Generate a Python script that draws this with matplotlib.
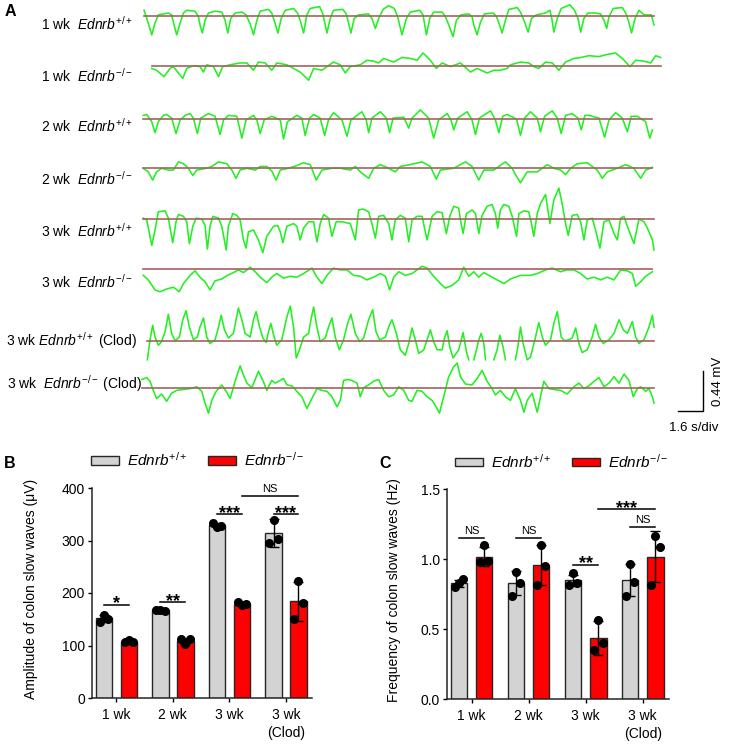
import numpy as np
import matplotlib
matplotlib.use('Agg')
import matplotlib.pyplot as plt
from matplotlib.patches import Patch

plt.rcParams['font.family'] = ['Liberation Sans', 'DejaVu Sans']
plt.rcParams['mathtext.fontset'] = 'custom'
plt.rcParams['mathtext.rm'] = 'Liberation Sans'
plt.rcParams['mathtext.it'] = 'Liberation Sans:italic'
plt.rcParams['mathtext.bf'] = 'Liberation Sans:bold'

nan = np.nan

trace_1wk_wt = [(0.26, 0.06), (0.47, -0.05), (0.75, -0.21), (0.96, -0.08), (1.17, 0.01), (1.81, 0.03), (2.02, 0.01),
                (2.13, -0.07), (2.34, -0.21), (2.56, -0.08), (2.77, 0.03), (2.98, 0.06), (3.51, 0.05), (3.73, -0.01),
                (3.83, -0.10), (3.98, -0.19), (4.15, -0.05), (4.37, 0.03), (4.79, 0.05), (5.22, 0.04), (5.43, -0.05),
                (5.60, -0.19), (5.79, -0.03), (6.07, 0.03), (6.50, 0.04), (6.77, 0.01), (7.03, -0.09), (7.24, -0.21),
                (7.46, -0.05), (7.67, 0.05), (8.20, 0.07), (8.41, 0.03), (8.56, -0.05), (8.80, -0.19), (9.01, -0.03),
                (9.27, 0.06), (9.80, 0.08), (10.05, 0.03), (10.22, -0.05), (10.44, -0.19), (10.65, 0.01), (10.86, 0.08),
                (11.46, 0.10), (11.65, 0.03), (11.78, -0.07), (11.93, -0.19), (12.14, -0.03), (12.35, 0.06),
                (12.95, 0.07), (13.16, 0.02), (13.31, -0.08), (13.46, -0.19), (13.67, -0.03), (13.95, 0.01),
                (14.59, 0.02), (14.80, -0.03), (15.02, -0.14), (15.23, -0.03), (15.51, 0.07), (15.87, 0.11),
                (16.23, 0.08), (16.44, -0.01), (16.72, -0.21), (17.00, -0.03), (17.25, 0.04), (17.85, 0.06),
                (18.06, 0.01), (18.28, -0.21), (18.49, -0.03), (18.74, 0.04), (19.28, 0.04), (19.49, -0.01),
                (19.70, -0.10), (19.98, -0.23), (20.19, -0.05), (20.49, 0.01), (20.98, 0.02), (21.19, -0.01),
                (21.30, -0.10), (21.51, -0.21), (21.73, -0.07), (21.98, 0.02), (22.54, 0.03), (22.75, -0.01),
                (22.94, -0.10), (23.11, -0.19), (23.32, -0.05), (23.54, 0.07), (24.07, 0.09), (24.28, 0.04),
                (24.50, -0.05), (24.77, -0.18), (24.98, -0.03), (25.30, 0.01), (25.88, 0.03), (26.16, 0.06),
                (26.28, -0.03), (26.41, -0.18), (26.63, -0.03), (26.88, 0.08), (27.43, 0.12), (27.73, 0.06),
                (27.95, -0.03), (28.12, -0.18), (28.33, -0.03), (28.58, 0.03), (29.07, 0.03), (29.39, 0.02),
                (29.61, -0.05), (29.78, -0.14), (29.93, -0.01), (30.20, 0.08), (30.78, 0.09), (30.99, 0.03),
                (31.16, -0.05), (31.37, -0.19), (31.59, -0.03), (31.84, 0.06), (32.16, 0.01), (32.63, 0.01),
                (32.80, -0.10)]

trace_1wk_ko = [(0.75, -0.03), (1.06, -0.05), (1.53, -0.12), (1.92, -0.03), (2.13, -0.01), (2.73, -0.14), (2.98, -0.03),
                (3.41, 0.00), (3.83, -0.01), (4.05, -0.07), (4.26, 0.01), (4.69, -0.01), (5.01, -0.12), (5.28, -0.01),
                (5.75, 0.01), (6.39, 0.03), (6.82, 0.03), (7.24, -0.05), (7.56, 0.04), (7.99, 0.03), (8.41, -0.05),
                (8.73, 0.03), (9.37, 0.01), (9.80, -0.03), (10.22, -0.07), (10.76, -0.16), (11.08, -0.03),
                (11.61, -0.05), (11.93, -0.01), (12.35, 0.04), (12.78, 0.01), (13.10, -0.08), (13.42, -0.01),
                (14.06, 0.01), (14.48, 0.06), (14.91, 0.05), (15.23, 0.03), (15.55, 0.08), (16.19, 0.04),
                (16.72, 0.09), (17.25, 0.08), (17.68, 0.06), (18.06, 0.14), (18.53, 0.06), (18.91, -0.03),
                (19.28, 0.03), (19.81, -0.01), (20.45, 0.03), (21.09, -0.07), (21.51, -0.03), (22.15, -0.08),
                (22.58, -0.05), (23.00, -0.05), (23.43, -0.03), (23.64, 0.01), (24.28, 0.04), (24.81, 0.03),
                (25.13, -0.01), (25.45, -0.03), (25.88, 0.04), (26.31, 0.03), (26.73, -0.05), (27.16, 0.04),
                (27.69, 0.08), (28.12, 0.09), (28.65, 0.11), (29.29, 0.10), (29.71, 0.12), (30.35, 0.14),
                (30.78, 0.08), (31.27, -0.01), (31.63, 0.06), (32.16, 0.05), (32.59, 0.03), (32.91, 0.11),
                (33.23, 0.09)]

trace_2wk_wt = [(0.21, 0.04), (0.43, 0.05), (0.75, -0.03), (0.96, -0.15), (1.17, -0.03), (1.49, 0.04), (1.70, 0.05),
                (2.02, 0.01), (2.30, -0.16), (2.56, -0.01), (2.88, 0.04), (3.20, 0.06), (3.41, 0.01), (3.66, -0.16),
                (3.88, 0.01), (4.37, 0.06), (4.79, 0.03), (5.11, -0.17), (5.33, -0.01), (5.64, 0.04), (6.18, 0.03),
                (6.50, -0.21), (6.77, -0.01), (7.24, 0.04), (7.46, -0.01), (7.67, -0.16), (7.92, -0.01), (8.41, 0.03),
                (8.95, -0.01), (9.16, -0.22), (9.41, -0.03), (10.01, 0.04), (10.33, 0.01), (10.54, -0.18),
                (10.82, 0.01), (11.08, 0.05), (11.50, 0.01), (11.78, -0.18), (12.03, -0.01), (12.35, 0.07),
                (12.89, -0.01), (13.21, -0.19), (13.46, -0.01), (14.16, 0.08), (14.44, -0.01), (14.59, -0.15),
                (14.80, 0.01), (15.34, 0.08), (15.72, 0.01), (15.93, -0.15), (16.15, 0.01), (16.83, 0.02),
                (17.15, -0.10), (17.36, 0.01), (17.89, 0.10), (18.42, 0.01), (18.74, -0.21), (19.06, -0.01),
                (19.60, 0.06), (19.85, -0.01), (20.02, -0.12), (20.28, 0.01), (20.87, 0.08), (21.19, -0.01),
                (21.41, -0.17), (21.66, 0.01), (22.37, 0.09), (22.68, -0.01), (22.90, -0.15), (23.15, 0.03),
                (23.43, 0.05), (24.03, 0.00), (24.28, -0.18), (24.54, 0.01), (24.92, 0.08), (25.35, 0.01),
                (25.56, -0.14), (25.82, 0.03), (26.31, 0.09), (26.63, 0.01), (26.88, -0.16), (27.16, 0.04),
                (27.58, 0.06), (27.95, 0.01), (28.16, -0.12), (28.39, 0.04), (28.65, 0.04), (29.29, 0.01),
                (29.65, -0.20), (29.93, -0.01), (30.35, 0.07), (30.78, 0.01), (31.10, -0.14), (31.35, 0.03),
                (31.74, 0.03), (32.27, -0.03), (32.53, -0.21), (32.70, -0.12)]

trace_2wk_ko = [(0.21, 0.00), (0.53, -0.04), (0.81, -0.13), (1.06, -0.04), (1.38, 0.00), (1.81, -0.02), (2.13, -0.02),
                (2.45, 0.07), (2.77, 0.05), (3.09, 0.00), (3.37, -0.08), (3.62, -0.02), (4.26, 0.00), (4.58, 0.02),
                (5.01, 0.07), (5.54, 0.05), (5.86, -0.02), (6.13, -0.11), (6.39, -0.02), (6.82, 0.00), (7.35, -0.02),
                (7.67, 0.02), (8.09, 0.02), (8.41, -0.03), (8.69, -0.13), (8.95, -0.02), (9.48, 0.00), (10.01, 0.03),
                (10.44, 0.06), (10.86, 0.04), (11.25, -0.13), (11.61, -0.02), (12.25, 0.00), (12.78, 0.00),
                (13.42, -0.02), (13.74, 0.02), (14.06, -0.04), (14.59, -0.11), (14.91, 0.00), (15.34, 0.04),
                (15.87, 0.00), (16.29, -0.04), (16.61, 0.02), (17.25, 0.04), (18.00, 0.07), (18.53, 0.02),
                (18.91, -0.12), (19.17, -0.02), (20.02, 0.00), (20.77, 0.07), (21.19, 0.02), (21.62, -0.13),
                (21.94, -0.02), (22.58, -0.02), (23.32, 0.07), (23.75, 0.00), (23.96, -0.07), (24.28, -0.16),
                (24.71, -0.04), (25.35, -0.04), (25.99, 0.04), (26.41, 0.00), (26.84, -0.02), (27.16, -0.07),
                (27.48, 0.00), (27.90, 0.05), (28.54, 0.06), (28.86, 0.02), (29.18, -0.02), (29.50, -0.11),
                (29.82, -0.04), (30.46, 0.00), (30.99, 0.04), (31.52, 0.00), (31.95, -0.11), (32.27, -0.02),
                (32.70, 0.01)]

trace_3wk_wt = [(0.21, 0.01), (0.43, -0.01), (0.75, -0.29), (0.96, -0.12), (1.17, 0.08), (1.60, 0.09), (1.81, 0.01),
                (2.09, -0.26), (2.30, -0.03), (2.45, 0.05), (2.77, 0.03), (2.98, -0.03), (3.15, -0.27), (3.37, -0.08),
                (3.58, 0.01), (3.94, 0.00), (4.15, -0.07), (4.30, -0.33), (4.47, -0.08), (4.64, 0.03), (5.01, 0.01),
                (5.22, -0.08), (5.50, -0.34), (5.64, -0.08), (5.92, 0.06), (6.18, 0.04), (6.39, -0.01), (6.60, -0.23),
                (6.77, -0.32), (6.92, -0.14), (7.24, -0.12), (7.56, -0.23), (7.84, -0.37), (8.09, -0.19),
                (8.52, -0.08), (8.78, -0.07), (8.95, -0.14), (9.12, -0.26), (9.37, -0.08), (9.80, -0.05),
                (10.01, -0.08), (10.22, -0.23), (10.44, -0.10), (10.76, -0.03), (11.08, -0.03), (11.29, -0.25),
                (11.50, -0.05), (11.72, 0.05), (12.03, 0.01), (12.25, -0.19), (12.52, -0.03), (12.89, -0.03),
                (13.42, -0.05), (13.74, -0.23), (13.95, 0.10), (14.23, 0.11), (14.59, 0.08), (14.80, -0.05),
                (15.02, -0.21), (15.23, 0.03), (15.55, 0.04), (15.87, -0.05), (16.08, -0.23), (16.29, -0.01),
                (16.61, 0.04), (16.93, 0.01), (17.15, -0.25), (17.36, -0.01), (17.68, 0.03), (18.00, 0.03),
                (18.32, -0.23), (18.64, 0.03), (18.96, 0.08), (19.28, 0.07), (19.55, -0.16), (19.77, 0.03),
                (20.02, 0.14), (20.34, 0.12), (20.45, -0.01), (20.62, -0.16), (20.83, 0.06), (21.19, 0.10),
                (21.41, 0.06), (21.62, -0.16), (21.83, 0.04), (22.15, 0.14), (22.47, 0.16), (22.68, 0.06),
                (22.83, -0.10), (23.00, 0.10), (23.22, 0.16), (23.54, 0.14), (23.75, 0.03), (24.03, -0.19),
                (24.18, 0.06), (24.50, 0.09), (24.81, 0.08), (24.96, -0.03), (25.13, -0.19), (25.35, 0.06),
                (25.56, 0.17), (25.88, 0.27), (26.16, -0.05), (26.41, 0.21), (26.73, 0.34), (26.94, 0.17),
                (27.16, -0.05), (27.33, -0.18), (27.58, 0.04), (27.90, 0.05), (28.12, -0.03), (28.33, -0.23),
                (28.54, -0.01), (28.86, 0.01), (29.07, -0.12), (29.35, -0.32), (29.61, -0.03), (29.93, -0.01),
                (30.25, -0.16), (30.46, -0.23), (30.67, 0.01), (30.89, 0.03), (31.10, -0.08), (31.52, -0.27),
                (31.84, 0.00), (32.16, -0.03), (32.38, -0.10), (32.70, -0.23), (32.80, -0.34)]

trace_3wk_ko = [(0.21, -0.07), (0.53, -0.12), (0.96, -0.23), (1.28, -0.25), (1.70, -0.22), (2.13, -0.20), (2.51, -0.25),
                (2.77, -0.16), (3.20, -0.07), (3.51, -0.02), (3.83, -0.09), (4.15, -0.14), (4.47, -0.23),
                (4.79, -0.13), (5.22, -0.11), (5.58, -0.07), (5.96, -0.04), (6.28, -0.01), (6.60, -0.04), (7.03, 0.02),
                (7.35, -0.03), (7.67, -0.09), (8.09, -0.15), (8.41, -0.09), (8.73, -0.05), (9.16, -0.10),
                (9.59, -0.08), (10.01, -0.09), (10.44, -0.05), (10.97, 0.01), (11.29, -0.09), (11.61, -0.16),
                (11.93, -0.07), (12.35, 0.01), (12.78, -0.01), (13.21, -0.01), (13.63, -0.07), (14.06, -0.08),
                (14.48, -0.12), (14.91, -0.09), (15.34, -0.05), (15.66, -0.08), (15.93, -0.23), (16.19, -0.09),
                (16.51, -0.03), (16.93, -0.07), (17.36, -0.05), (17.68, -0.01), (18.00, 0.03), (18.32, 0.01),
                (18.74, -0.08), (19.17, -0.16), (19.49, -0.21), (19.92, -0.18), (20.34, -0.12), (20.66, 0.02),
                (20.98, -0.08), (21.30, -0.03), (21.62, -0.09), (21.94, -0.04), (22.37, -0.08), (22.79, -0.12),
                (23.22, -0.16), (23.64, -0.11), (24.28, -0.07), (24.92, -0.07), (25.35, -0.05), (25.88, -0.01),
                (26.31, 0.01), (26.84, -0.03), (27.26, -0.01), (27.69, -0.01), (28.12, -0.05), (28.54, -0.11),
                (28.97, -0.09), (29.39, -0.12), (29.82, -0.09), (30.25, -0.12), (30.67, -0.01), (31.10, -0.02),
                (31.42, -0.05), (31.63, -0.19), (31.95, -0.14), (32.27, -0.08), (32.70, -0.03)]

# clodronate traces; nan marks where the recording left the display window
trace_clod_wt = [(0.47, -0.21), (0.64, 0.01), (0.81, 0.17), (0.96, 0.04), (1.17, -0.05), (1.38, -0.01), (1.60, 0.10),
                 (1.81, 0.29), (2.02, 0.08), (2.24, 0.00), (2.51, 0.04), (2.73, 0.23), (2.94, 0.33), (3.15, 0.15),
                 (3.41, 0.01), (3.66, 0.04), (3.83, 0.15), (4.05, 0.25), (4.26, 0.04), (4.47, -0.03), (4.79, 0.01),
                 (5.01, 0.15), (5.18, 0.28), (5.39, 0.12), (5.64, 0.03), (5.96, 0.08), (6.28, 0.36), (6.50, 0.23),
                 (6.71, 0.08), (7.03, 0.04), (7.24, 0.23), (7.41, 0.32), (7.63, 0.15), (7.84, 0.03), (8.05, -0.02),
                 (8.20, 0.10), (8.35, 0.19), (8.56, 0.04), (8.73, -0.05), (9.05, 0.01), (9.37, 0.26), (9.59, 0.38),
                 (9.80, 0.15), (9.97, -0.19), (10.18, -0.10), (10.44, 0.04), (10.76, 0.08), (10.91, 0.23),
                 (11.08, 0.37), (11.29, 0.15), (11.50, -0.01), (11.82, 0.03), (12.03, 0.15), (12.25, 0.25),
                 (12.46, 0.04), (12.72, -0.10), (12.99, 0.01), (13.25, 0.19), (13.46, 0.29), (13.74, 0.08),
                 (14.02, -0.01), (14.27, 0.03), (14.59, 0.23), (14.85, 0.34), (15.06, 0.10), (15.29, 0.01),
                 (15.66, 0.04), (15.87, 0.15), (16.08, 0.23), (16.36, 0.08), (16.61, -0.10), (16.93, -0.16),
                 (17.15, -0.03), (17.36, 0.14), (17.57, 0.01), (17.79, -0.14), (18.11, -0.10), (18.36, 0.03),
                 (18.53, 0.12), (18.74, -0.01), (18.96, -0.10), (19.28, -0.10), (19.43, 0.03), (19.60, 0.11),
                 (19.77, -0.07), (19.98, -0.19), (20.34, -0.10), (20.62, 0.09), (20.83, -0.12), (20.98, -0.21),
                 (21.14, nan), (21.30, -0.21), (21.47, -0.10), (21.62, 0.01), (21.77, 0.08), (21.94, -0.03),
                 (22.05, -0.21), (22.30, nan), (22.58, -0.21), (22.79, -0.10), (22.96, 0.06), (23.17, -0.07),
                 (23.32, -0.21), (23.64, nan), (23.96, -0.21), (24.11, -0.07), (24.28, 0.15), (24.45, -0.03),
                 (24.71, -0.21), (24.92, -0.18), (25.24, 0.04), (25.45, 0.20), (25.67, 0.04), (25.88, -0.05),
                 (26.20, 0.01), (26.41, 0.19), (26.63, 0.32), (26.88, 0.04), (27.09, 0.00), (27.37, 0.01),
                 (27.58, 0.03), (27.80, 0.14), (28.01, -0.03), (28.22, -0.13), (28.54, -0.10), (28.86, 0.04),
                 (29.07, 0.18), (29.29, 0.04), (29.56, -0.03), (29.93, 0.01), (30.25, 0.08), (30.57, 0.23),
                 (30.84, 0.12), (31.10, 0.08), (31.42, 0.21), (31.63, 0.04), (31.84, -0.03), (32.16, 0.01),
                 (32.48, 0.15), (32.70, 0.28), (32.80, 0.15)]

trace_clod_ko = [(0.11, 0.09), (0.43, 0.11), (0.64, 0.07), (0.85, -0.03), (1.06, -0.12), (1.38, -0.07), (1.70, -0.15),
                 (2.02, -0.06), (2.34, -0.03), (2.77, -0.02), (3.20, -0.01), (3.62, 0.01), (3.94, -0.04),
                 (4.15, -0.17), (4.37, -0.28), (4.58, -0.14), (4.86, -0.04), (5.22, 0.03), (5.50, -0.04),
                 (5.75, -0.12), (6.07, 0.07), (6.39, 0.24), (6.60, 0.14), (6.82, 0.05), (7.14, 0.00), (7.56, 0.18),
                 (7.84, 0.08), (8.09, -0.03), (8.41, 0.08), (8.63, 0.05), (8.84, 0.07), (9.16, 0.10), (9.37, 0.03),
                 (9.69, 0.02), (10.01, -0.04), (10.33, -0.10), (10.65, -0.23), (10.97, -0.12), (11.29, -0.01),
                 (11.61, -0.03), (11.93, -0.04), (12.25, -0.10), (12.57, -0.21), (12.78, -0.14), (12.99, 0.08),
                 (13.21, 0.09), (13.53, 0.08), (13.85, 0.05), (14.06, -0.10), (14.27, 0.00), (14.59, 0.03),
                 (14.91, 0.07), (15.23, 0.09), (15.55, -0.03), (15.87, -0.10), (16.19, -0.08), (16.51, 0.01),
                 (16.83, -0.03), (17.15, -0.14), (17.36, -0.15), (17.68, -0.03), (18.00, -0.04), (18.32, -0.10),
                 (18.64, -0.14), (18.96, -0.23), (19.11, -0.28), (19.38, -0.10), (19.70, 0.12), (20.02, 0.23),
                 (20.24, 0.27), (20.45, 0.12), (20.77, 0.04), (21.19, 0.03), (21.51, 0.10), (21.83, 0.19),
                 (22.15, 0.07), (22.47, -0.01), (22.68, -0.08), (23.00, -0.03), (23.32, -0.10), (23.64, -0.14),
                 (23.96, -0.01), (24.28, -0.14), (24.50, -0.27), (24.71, -0.14), (25.03, -0.06), (25.24, -0.20),
                 (25.35, -0.27), (25.56, -0.10), (25.77, 0.07), (26.09, -0.01), (26.41, -0.02), (26.84, -0.03),
                 (27.26, -0.07), (27.69, 0.01), (28.01, 0.05), (28.33, -0.01), (28.65, 0.02), (28.97, 0.07),
                 (29.29, 0.11), (29.61, 0.01), (29.93, 0.05), (30.25, 0.12), (30.57, 0.05), (30.89, 0.15),
                 (31.20, 0.08), (31.48, -0.10), (31.74, -0.01), (31.95, 0.01), (32.27, -0.04), (32.48, -0.01),
                 (32.70, -0.10), (32.80, -0.17)]

traces = [trace_1wk_wt, trace_1wk_ko, trace_2wk_wt, trace_2wk_ko,
          trace_3wk_wt, trace_3wk_ko, trace_clod_wt, trace_clod_ko]
trace_labels = [r'1 wk  $\mathit{Ednrb}^{+/+}$', r'1 wk  $\mathit{Ednrb}^{-/-}$',
                r'2 wk  $\mathit{Ednrb}^{+/+}$', r'2 wk  $\mathit{Ednrb}^{-/-}$',
                r'3 wk  $\mathit{Ednrb}^{+/+}$', r'3 wk  $\mathit{Ednrb}^{-/-}$',
                r'3 wk $\mathit{Ednrb}^{+/+}$ (Clod)', r'3 wk  $\mathit{Ednrb}^{-/-}$ (Clod)']

# ---------------- panels B and C
groups = ['1 wk', '2 wk', '3 wk', '3 wk\n(Clod)']

amp_wt_mean = [152, 167, 329, 314]
amp_wt_sd = [7, 2, 4, 27]
amp_wt_pts = [[144, 159, 150], [167, 168, 166], [333, 326, 328], [295, 340, 303]]
amp_ko_mean = [106, 108, 180, 184]
amp_ko_sd = [3, 5, 2, 37]
amp_ko_pts = [[107, 110, 106], [112, 103, 112], [182, 178, 180], [150, 222, 181]]

freq_wt_mean = [0.83, 0.83, 0.85, 0.85]
freq_wt_sd = [0.025, 0.085, 0.04, 0.115]
freq_wt_pts = [[0.80, 0.83, 0.86], [0.74, 0.91, 0.83], [0.82, 0.90, 0.83], [0.74, 0.97, 0.84]]
freq_ko_mean = [1.02, 0.96, 0.44, 1.02]
freq_ko_sd = [0.065, 0.14, 0.12, 0.185]
freq_ko_pts = [[0.98, 1.10, 0.99], [0.82, 1.10, 0.95], [0.35, 0.57, 0.40], [0.82, 1.17, 1.09]]

# (group, side, group, side, y, label); side -1 = +/+, +1 = -/-
amp_sig = [(0, -1, 0, 1, 177, '*'), (1, -1, 1, 1, 182, '**'), (2, -1, 2, 1, 350, '***'),
           (3, -1, 3, 1, 350, '***'), (2, 1, 3, 1, 385, 'NS')]
freq_sig = [(0, -1, 0, 1, 1.155, 'NS'), (1, -1, 1, 1, 1.155, 'NS'), (2, -1, 2, 1, 0.96, '**'),
            (2, 1, 3, 1, 1.357, '***'), (3, -1, 3, 1, 1.23, 'NS')]

GREEN = '#22f022'
BASE = '#a5625f'
GRAY = '#d3d3d3'
RED = '#ff0000'
EDGE = '#262626'
W, H = 729, 747

fig = plt.figure(figsize=(W / 100, H / 100), dpi=100)

# trace area: 15.67 px per s, 91 px per mV
axA = fig.add_axes([140 / W, 1 - 440 / H, 589 / W, 440 / H])
axA.set_xlim(0, 589 / 15.67)
axA.set_ylim(-440 / 91, 0)
axA.axis('off')
row_offset = [-0.173, -0.722, -1.308, -1.849, -2.407, -2.956, -3.744, -4.260]
label_x = [41, 41, 41, 41, 41, 41, 6, 7]
label_base = [30, 82, 132, 185, 237, 288, 346, 389]

for tr, off, lab, lx, ly in zip(traces, row_offset, trace_labels, label_x, label_base):
    t, v = np.array(tr, dtype=float).T
    axA.plot(t, v + off, color=GREEN, lw=1.15, zorder=2, solid_joinstyle='round')
    axA.plot([t[0], t[-1]], [off, off], color=BASE, lw=1.2, zorder=3)
    fig.text(lx / W, 1 - ly / H, lab, fontsize=10, ha='left', va='baseline')

# scale bar
sb_x, sb_y = 35.96, -4.52
axA.plot([sb_x - 1.6, sb_x, sb_x], [sb_y, sb_y, sb_y + 0.44], color='black', lw=1.0, clip_on=False)
axA.text(sb_x + 0.95, sb_y + 0.33, '0.44 mV', rotation=90, ha='center', va='center', fontsize=9.5)
axA.text(sb_x - 0.6, sb_y - 0.18, '1.6 s/div', ha='center', va='center', fontsize=9.5)

for letter, lx, ly in [('A', 5, 12), ('B', 4, 463), ('C', 379, 463)]:
    fig.text(lx / W, 1 - ly / H, letter, fontsize=11.5, fontweight='bold', ha='left', va='center')

OFF = 0.22
BAR_W = 0.29
JIT = np.array([-0.075, 0.0, 0.075])


def bar_panel(ax, wt_mean, wt_sd, wt_pts, ko_mean, ko_sd, ko_pts, sig, ylim, yticks, ylabel, label_x, leg_x):
    x = np.arange(len(groups))
    for side, mean, sd, pts, col in [(-1, wt_mean, wt_sd, wt_pts, GRAY), (1, ko_mean, ko_sd, ko_pts, RED)]:
        xc = x + side * OFF
        ax.bar(xc, mean, width=BAR_W, color=col, edgecolor=EDGE, linewidth=1.0, zorder=2)
        ax.errorbar(xc, mean, yerr=sd, fmt='none', ecolor='black', elinewidth=1.0,
                    capsize=3.5, capthick=1.0, zorder=3)
        for xi, p in zip(xc, pts):
            ax.plot(xi + JIT, p, 'o', color='black', ms=5.5, zorder=4, clip_on=False)

    for ga, sa, gb, sb, y, lab in sig:
        x1, x2 = ga + sa * OFF, gb + sb * OFF
        ax.plot([x1, x2], [y, y], color='black', lw=1.1, clip_on=False)
        if lab == 'NS':
            ax.annotate(lab, ((x1 + x2) / 2, y), xytext=(0, 1.5), textcoords='offset points',
                        ha='center', va='bottom', fontsize=8)
        else:
            ax.annotate(lab, ((x1 + x2) / 2, y), xytext=(0, -2.5), textcoords='offset points',
                        ha='center', va='baseline', fontsize=13, fontweight='bold')

    ax.set_xlim(-0.43, 3.46)
    ax.set_ylim(*ylim)
    ax.set_yticks(yticks)
    ax.set_xticks(x)
    ax.set_xticklabels(groups, fontsize=10, linespacing=1.35)
    ax.tick_params(axis='y', labelsize=10, length=3, width=1, pad=2)
    ax.tick_params(axis='x', length=3, width=1, pad=4)
    for s in ['top', 'right']:
        ax.spines[s].set_visible(False)
    for s in ['left', 'bottom']:
        ax.spines[s].set_linewidth(1.1)
        ax.spines[s].set_color(EDGE)
    ax.set_ylabel(ylabel, fontsize=10)
    ax.yaxis.set_label_coords(label_x, 0.52)

    handles = [Patch(facecolor=GRAY, edgecolor=EDGE, lw=1), Patch(facecolor=RED, edgecolor=EDGE, lw=1)]
    ax.legend(handles, [r'$\mathit{Ednrb}^{+/+}$', r'$\mathit{Ednrb}^{-/-}$'], ncol=2, loc='center left',
              bbox_to_anchor=(leg_x, 1.133), frameon=False, fontsize=11, handlelength=1.85,
              handleheight=0.45, handletextpad=0.5, columnspacing=1.35, borderaxespad=0, borderpad=0)


axB = fig.add_axes([92 / W, 1 - 698 / H, 220 / W, 210 / H])
bar_panel(axB, amp_wt_mean, amp_wt_sd, amp_wt_pts, amp_ko_mean, amp_ko_sd, amp_ko_pts, amp_sig,
          (0, 400), [0, 100, 200, 300, 400], 'Amplitude of colon slow waves (\u03bcV)', -0.245, -0.005)

axC = fig.add_axes([447 / W, 1 - 699.3 / H, 222 / W, 210 / H])
bar_panel(axC, freq_wt_mean, freq_wt_sd, freq_wt_pts, freq_ko_mean, freq_ko_sd, freq_ko_pts, freq_sig,
          (0, 1.5), [0.0, 0.5, 1.0, 1.5], 'Frequency of colon slow waves (Hz)', -0.207, 0.036)
axC.yaxis.set_major_formatter(matplotlib.ticker.FormatStrFormatter('%.1f'))

fig.savefig('out.png', dpi=100)
